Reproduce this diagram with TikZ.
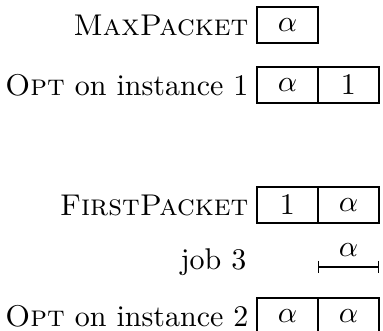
\documentclass[tikz,border=0pt]{standalone}
\usetikzlibrary{arrows.meta}
\begin{document}
\begin{tikzpicture}[x=0.3333pt,y=-0.3333pt,
  cell/.style={draw,rectangle,minimum width=20.33pt,minimum height=12pt,inner sep=0pt,anchor=center},
  lbl/.style={anchor=east,inner sep=0pt}]
\useasboundingbox (0,0) rectangle (383,331);
% row 1
\node[cell] (m1) at (287.5,25) {$\alpha$};
\node[lbl] (lm) at (249,25) {\textsc{MaxPacket}};
% row 2
\node[cell] (o1a) at (287.5,85) {$\alpha$};
\node[cell] (o1b) at (348.5,85) {$1$};
\node[lbl] (lo1) at (249,85) {\textsc{Opt} on instance 1};
% row 3
\node[cell] (f1) at (287.5,205) {$1$};
\node[cell] (f2) at (348.5,205) {$\alpha$};
\node[lbl] (lf) at (249,205) {\textsc{FirstPacket}};
% job 3
\node[lbl] (lj) at (247,262) {job 3};
\coordinate (jl) at (318.5,267);
\coordinate (jr) at (378.5,267);
\draw (jl) -- node[above,inner sep=3.3pt] (ja) {$\alpha$} (jr);
\draw (jl) ++(0,-6) -- ++(0,12);
\draw (jr) ++(0,-6) -- ++(0,12);
% row 4
\node[cell] (o2a) at (287.5,316) {$\alpha$};
\node[cell] (o2b) at (348.5,316) {$\alpha$};
\node[lbl] (lo2) at (249,316) {\textsc{Opt} on instance 2};
\end{tikzpicture}
\end{document}
